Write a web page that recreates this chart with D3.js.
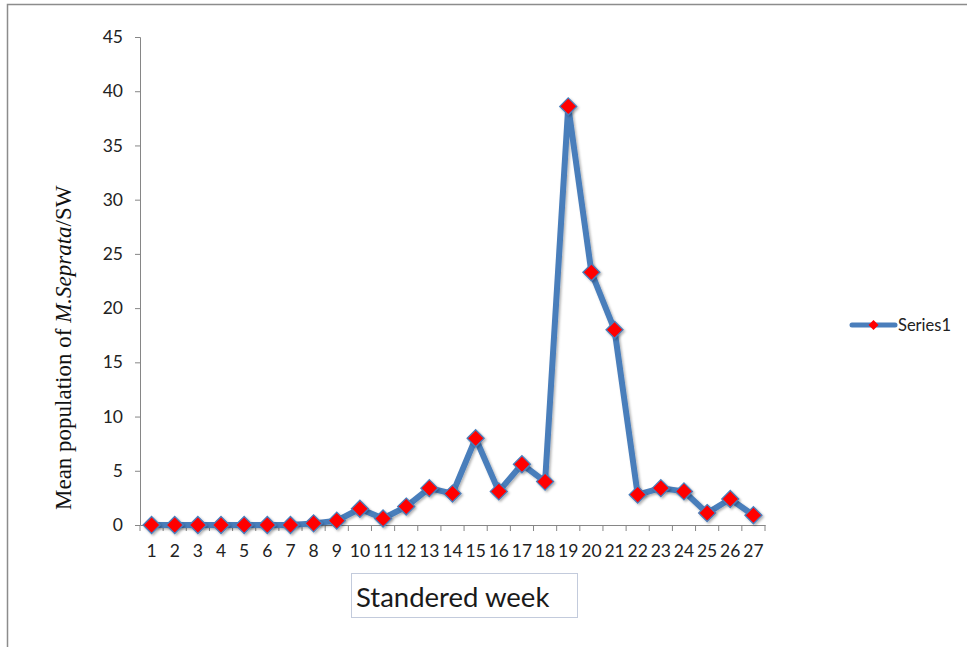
<!DOCTYPE html>
<html><head><meta charset="utf-8">
<script src="https://cdn.jsdelivr.net/npm/d3@7"></script>
<style>body{margin:0;background:#fff;}svg{display:block;}</style>
</head><body>
<svg id="c" width="967" height="647"></svg>
<script>
const weeks = ["1","2","3","4","5","6","7","8","9","10","11","12","13","14","15","16","17","18","19","20","21","22","23","24","25","26","27"];
const values = [0,0,0,0,0,0,0,0.15,0.4,1.5,0.6,1.7,3.4,2.9,8.0,3.1,5.6,4.0,38.6,23.3,18.0,2.8,3.4,3.1,1.1,2.4,0.9];
const yTicks = [0,5,10,15,20,25,30,35,40,45];
const seriesName = "Series1";

(function(){
const svg = d3.select("#c");
const defs = svg.append("defs");
const f = defs.append("filter").attr("id","sh").attr("x","-50%").attr("y","-50%").attr("width","200%").attr("height","200%");
f.append("feDropShadow").attr("dx",1.5).attr("dy",1.5).attr("stdDeviation",1.2).attr("flood-color","#000").attr("flood-opacity",0.3);

// outer frame
svg.append("rect").attr("x",7.5).attr("y",4.5).attr("width",970).attr("height",700)
  .attr("fill","none").attr("stroke","#8c8c8c").attr("stroke-width",1.5);

const pl=140, pr=765, pt=37, pb=525;
const x = d3.scaleBand().domain(weeks).range([pl,pr]);
const y = d3.scaleLinear().domain([0,45]).range([pb,pt]);
const axisColor="#868686";
const tickFont = "Lato, 'Open Sans', sans-serif";

// y axis
const ya = svg.append("g").attr("transform",`translate(${pl},0)`)
  .call(d3.axisLeft(y).tickValues(yTicks).tickSize(5).tickPadding(12));
ya.select(".domain").attr("stroke",axisColor);
ya.selectAll(".tick line").attr("stroke",axisColor);
ya.selectAll("text").attr("font-family",tickFont).attr("font-size",17.5).attr("fill","#222");

// x axis
const xa = svg.append("g").attr("transform",`translate(0,${pb})`)
  .call(d3.axisBottom(x).tickSize(0).tickPadding(20));
xa.select(".domain").attr("stroke",axisColor);
xa.selectAll("text").attr("font-family",tickFont).attr("font-size",17.5).attr("fill","#222");
// ticks at band boundaries
const bounds = weeks.map(w=>x(w)).concat([pr]);
svg.append("g").selectAll("line").data(bounds).join("line")
  .attr("x1",d=>d).attr("x2",d=>d).attr("y1",pb).attr("y2",pb+6)
  .attr("stroke",axisColor);

// line
const line = d3.line().x((d,i)=>x(weeks[i])+x.bandwidth()/2).y(d=>y(d));
svg.append("path").datum(values).attr("d",line).attr("fill","none")
  .attr("stroke","#4a7ebb").attr("stroke-width",6).attr("stroke-linejoin","round")
  .attr("filter","url(#sh)");

const diamondPath = "M0,-8.5L8.5,0L0,8.5L-8.5,0Z";
svg.append("g").attr("filter","url(#sh)").selectAll("path").data(values).join("path")
  .attr("transform",(d,i)=>`translate(${x(weeks[i])+x.bandwidth()/2},${y(d)})`)
  .attr("d",diamondPath).attr("fill","#ff0000").attr("stroke","#4a7ebb").attr("stroke-width",1.3);

// legend
const lg = svg.append("g").attr("transform","translate(852,325)");
lg.append("line").attr("x1",0).attr("x2",43).attr("y1",0).attr("y2",0).attr("stroke","#4a7ebb").attr("stroke-width",5).attr("stroke-linecap","round");
lg.append("path").attr("transform","translate(21.5,0)").attr("d","M0,-5L5,0L0,5L-5,0Z").attr("fill","#ff0000");
lg.append("text").attr("x",46).attr("y",6).text(seriesName)
  .attr("font-family",tickFont).attr("font-size",16.5).attr("fill","#222");

// x-axis title box
svg.append("rect").attr("x",351.5).attr("y",573.5).attr("width",226).attr("height",44)
  .attr("fill","#fff").attr("stroke","#c3cbdc").attr("stroke-width",1);
svg.append("text").attr("x",356).attr("y",607).text("Standered week")
  .attr("font-family",tickFont).attr("font-size",27.5).attr("fill","#1a1a1a");

// y-axis title
const yt = svg.append("text").attr("transform","translate(71,510) rotate(-90)")
  .attr("font-family","'Liberation Serif', 'DejaVu Serif', serif").attr("font-size",23).attr("fill","#111");
yt.append("tspan").text("Mean population of ");
yt.append("tspan").attr("font-style","italic").text("M.Seprata");
yt.append("tspan").text("/SW");
})();
</script>
</body></html>
